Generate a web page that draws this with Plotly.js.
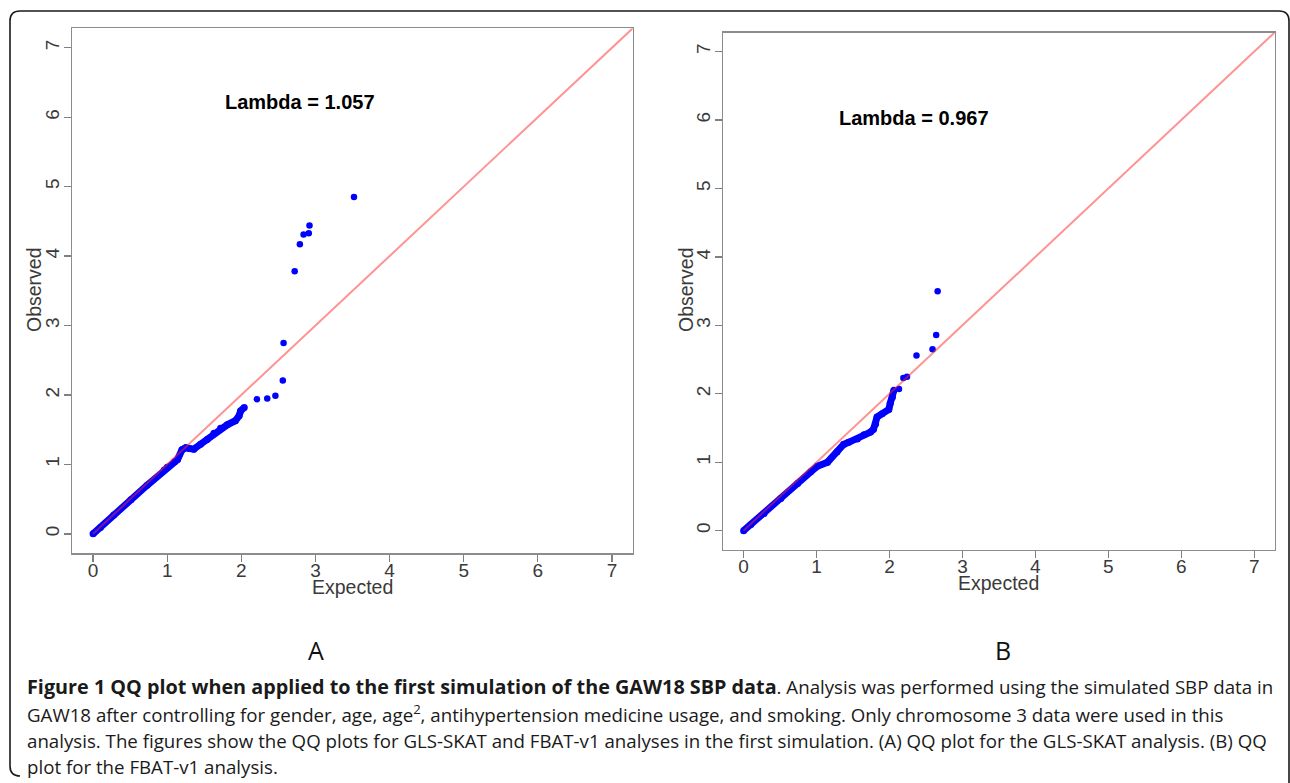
<!DOCTYPE html>
<html>
<head>
<meta charset="utf-8">
<script src="https://cdn.plot.ly/plotly-3.0.1.min.js"></script>
<style>
  html, body { margin: 0; padding: 0; background: #ffffff; }
  #chart { width: 1290px; height: 783px; }
</style>
</head>
<body>
<div id="chart"></div>
<script>
// ---------------- DATA ----------------
// Panel A (GLS-SKAT): dense band of points, expected vs observed -log10(p)
var aBandExpected = [0.00, 0.10, 0.28, 0.51, 0.73, 0.96, 1.00, 1.10, 1.14, 1.20, 1.25, 1.30, 1.36, 1.45, 1.54, 1.63, 1.72, 1.81, 1.92, 1.97, 1.99, 2.04];
var aBandObserved = [0.00, 0.09, 0.27, 0.49, 0.70, 0.92, 0.96, 1.04, 1.07, 1.21, 1.24, 1.23, 1.22, 1.29, 1.36, 1.45, 1.52, 1.57, 1.63, 1.70, 1.77, 1.82];
// Panel A: separated top points
var aTailExpected = [2.21, 2.35, 2.46, 2.56, 2.57, 2.72, 2.79, 2.84, 2.91, 2.92, 3.52];
var aTailObserved = [1.94, 1.95, 1.99, 2.21, 2.75, 3.78, 4.17, 4.31, 4.33, 4.44, 4.85];

// Panel B (FBAT-v1): dense band
var bBandExpected = [0.00, 0.10, 0.28, 0.51, 0.74, 0.92, 1.01, 1.15, 1.28, 1.37, 1.44, 1.56, 1.65, 1.74, 1.78, 1.81, 1.83, 1.90, 1.99, 2.01, 2.04, 2.06];
var bBandObserved = [0.00, 0.09, 0.25, 0.47, 0.69, 0.86, 0.94, 1.00, 1.15, 1.26, 1.29, 1.34, 1.40, 1.44, 1.48, 1.56, 1.66, 1.71, 1.77, 1.86, 1.95, 2.05];
// Panel B: separated top points
var bTailExpected = [2.13, 2.19, 2.24, 2.37, 2.59, 2.64, 2.66];
var bTailObserved = [2.07, 2.23, 2.25, 2.56, 2.65, 2.86, 3.50];

// Identity reference line (y = x)
var refLine = [0, 8];

var tickValues = [0, 1, 2, 3, 4, 5, 6, 7];
var tickLabels = ["0", "1", "2", "3", "4", "5", "6", "7"];

var lambdaA = "Lambda = 1.057";
var lambdaB = "Lambda = 0.967";
var panelLabels = ["A", "B"];
var xTitle = "Expected";
var yTitle = "Observed";

var captionBold = "Figure 1 QQ plot when applied to the first simulation of the GAW18 SBP data";
var captionLines = [
  ". Analysis was performed using the simulated SBP data in",
  "GAW18 after controlling for gender, age, age<sup>2</sup>, antihypertension medicine usage, and smoking. Only chromosome 3 data were used in this",
  "analysis. The figures show the QQ plots for GLS-SKAT and FBAT-v1 analyses in the first simulation. (A) QQ plot for the GLS-SKAT analysis. (B) QQ",
  "plot for the FBAT-v1 analysis."
];

// ---------------- LAYOUT HELPERS ----------------
var W = 1290, H = 783;
function px(x) { return x / W; }
function py(y) { return 1 - y / H; }
function P(x, y) { return px(x).toFixed(5) + " " + py(y).toFixed(5); }

var BLUE = "#0000ff";
var REF = "rgba(255,40,40,0.5)";
var tickFont = { family: "Liberation Sans, Arial, sans-serif", size: 19, color: "#3a3a3a" };

function axisBase(domain, anchor, standoff) {
  return {
    domain: domain,
    anchor: anchor,
    range: [-0.28, 7.28],
    tickmode: "array",
    tickvals: tickValues,
    ticktext: tickLabels,
    ticks: "outside",
    ticklen: 7,
    tickwidth: 1.3,
    tickcolor: "#808080",
    ticklabelstandoff: standoff,
    showline: true,
    linecolor: "#8c8c8c",
    linewidth: 1.6,
    mirror: true,
    showgrid: false,
    zeroline: false,
    tickfont: tickFont,
    fixedrange: true
  };
}

var traces = [
  { x: aBandExpected, y: aBandObserved, xaxis: "x", yaxis: "y", mode: "lines+markers",
    line: { color: BLUE, width: 7 }, marker: { color: BLUE, size: 7 }, hoverinfo: "x+y" },
  { x: aTailExpected, y: aTailObserved, xaxis: "x", yaxis: "y", mode: "markers",
    marker: { color: BLUE, size: 6.5 }, hoverinfo: "x+y" },
  { x: refLine, y: refLine, xaxis: "x", yaxis: "y", mode: "lines",
    line: { color: REF, width: 2 }, hoverinfo: "skip" },
  { x: bBandExpected, y: bBandObserved, xaxis: "x2", yaxis: "y2", mode: "lines+markers",
    line: { color: BLUE, width: 7 }, marker: { color: BLUE, size: 7 }, hoverinfo: "x+y" },
  { x: bTailExpected, y: bTailObserved, xaxis: "x2", yaxis: "y2", mode: "markers",
    marker: { color: BLUE, size: 6.5 }, hoverinfo: "x+y" },
  { x: refLine, y: refLine, xaxis: "x2", yaxis: "y2", mode: "lines",
    line: { color: REF, width: 2 }, hoverinfo: "skip" }
];

var xa = axisBase([px(72.3), px(632.7)], "y", -8);
var ya = axisBase([py(553.3), py(28.3)], "x", -3);
ya.tickangle = -90;
var xb = axisBase([px(723.2), px(1274.6)], "y2", -8);
var yb = axisBase([py(549.8), py(32.5)], "x2", -3);
yb.tickangle = -90;

var titleFont = { family: "Liberation Sans, Arial, sans-serif", size: 19.5, color: "#3a3a3a" };
var lambdaFont = { family: "Liberation Sans, Arial, sans-serif", size: 20, color: "#000000" };
var capFont = { family: "Open Sans, sans-serif", size: 18.7, color: "#1a1a1a" };
var labelFont = { family: "Open Sans, sans-serif", size: 25, color: "#111111" };

var annotations = [
  { text: xTitle, xref: "paper", yref: "paper", x: px(352), y: py(587), xanchor: "center", yanchor: "middle", showarrow: false, font: titleFont },
  { text: yTitle, xref: "paper", yref: "paper", x: px(34), y: py(290), xanchor: "center", yanchor: "middle", textangle: -90, showarrow: false, font: titleFont },
  { text: xTitle, xref: "paper", yref: "paper", x: px(999), y: py(583), xanchor: "center", yanchor: "middle", showarrow: false, font: titleFont },
  { text: yTitle, xref: "paper", yref: "paper", x: px(686), y: py(290), xanchor: "center", yanchor: "middle", textangle: -90, showarrow: false, font: titleFont },
  { text: "<b>" + lambdaA + "</b>", xref: "paper", yref: "paper", x: px(299.5), y: py(102), xanchor: "center", yanchor: "middle", showarrow: false, font: lambdaFont },
  { text: "<b>" + lambdaB + "</b>", xref: "paper", yref: "paper", x: px(914), y: py(118.5), xanchor: "center", yanchor: "middle", showarrow: false, font: lambdaFont },
  { text: panelLabels[0], xref: "paper", yref: "paper", x: px(316), y: py(650), xanchor: "center", yanchor: "middle", showarrow: false, font: labelFont },
  { text: panelLabels[1], xref: "paper", yref: "paper", x: px(1003), y: py(650), xanchor: "center", yanchor: "middle", showarrow: false, font: labelFont }
];
var capY = [686, 713, 740, 766];
for (var i = 0; i < captionLines.length; i++) {
  var t = captionLines[i];
  if (i === 0) {
    t = "<span style=\"font-weight:bold;font-size:19.8px\">" + captionBold + "</span>" + t;
  }
  annotations.push({ text: t, xref: "paper", yref: "paper", x: px(25), y: py(capY[i]),
    xanchor: "left", yanchor: "middle", align: "left", showarrow: false, font: capFont });
}

var borderPath = "M " + P(20, 776) + " Q " + P(10, 776) + " " + P(10, 766) +
  " L " + P(10, 21) + " Q " + P(10, 11) + " " + P(20, 11) +
  " L " + P(1279, 11) + " Q " + P(1289, 11) + " " + P(1289, 21) +
  " L " + P(1289, 783);

var layout = {
  width: W, height: H,
  margin: { l: 0, r: 0, t: 0, b: 0, pad: 0 },
  paper_bgcolor: "#ffffff",
  plot_bgcolor: "#ffffff",
  showlegend: false,
  xaxis: xa, yaxis: ya, xaxis2: xb, yaxis2: yb,
  annotations: annotations,
  shapes: [
    { type: "path", xref: "paper", yref: "paper", path: borderPath, line: { color: "#1a1a1a", width: 1.6 } }
  ]
};

Plotly.newPlot("chart", traces, layout, { displayModeBar: false, staticPlot: true });
</script>
</body>
</html>
